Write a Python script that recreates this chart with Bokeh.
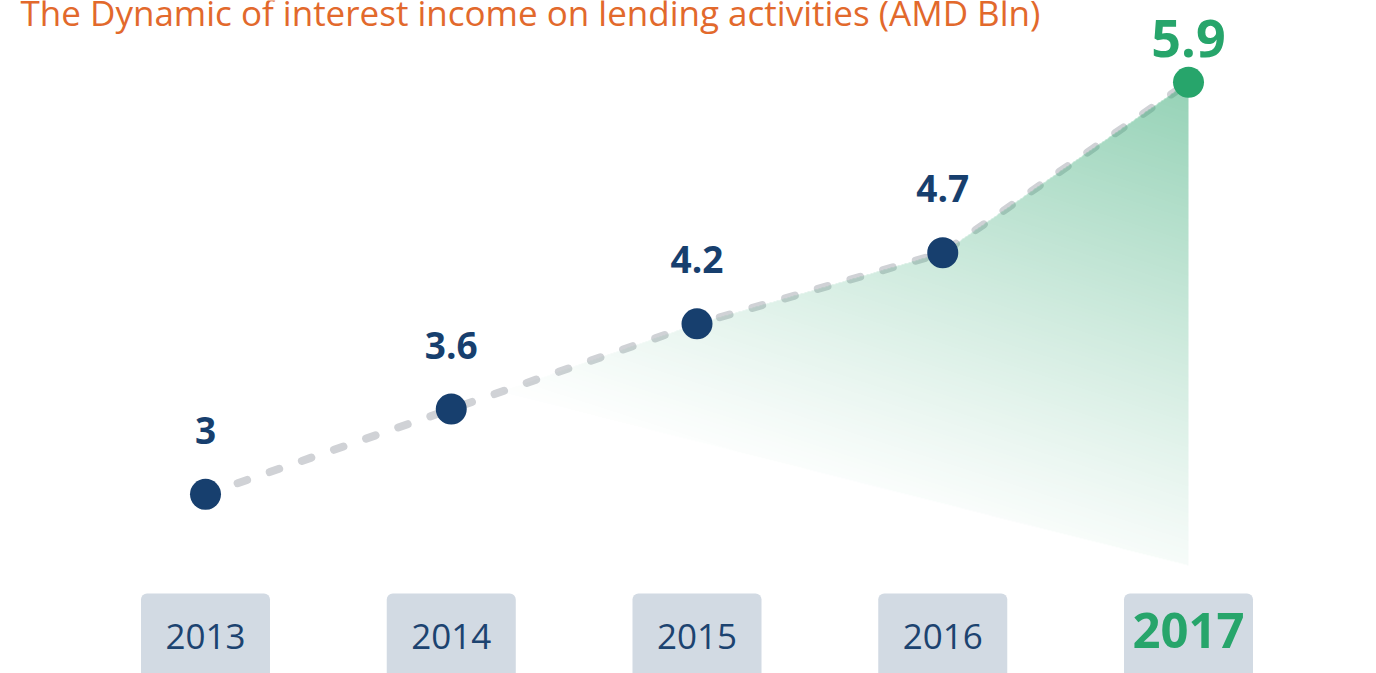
import numpy as np
from bokeh.plotting import figure
from bokeh.models import Range1d, Label
from bokeh.core.properties import value
from bokeh.embed import file_html
from bokeh.resources import INLINE

# ---- data ----
years = ["2013", "2014", "2015", "2016", "2017"]
values = [3.0, 3.6, 4.2, 4.7, 5.9]
labels = ["3", "3.6", "4.2", "4.7", "5.9"]
title_text = "The Dynamic of interest income on lending activities (AMD Bln)"

idx = np.arange(len(years), dtype=float)
vals = np.array(values)

# ---- layout / style ----
W, H = 1376, 673
X0, X1 = -0.8342, 4.765
Y0, Y1 = 1.7390, 6.4761
BLUE = "#173f6e"
GREEN = "#27a56b"
GRAY_LINE = "#d0d2d6"
BOX = "#d2dae3"
ORANGE = "#e2692c"

p = figure(width=W, height=H, x_range=Range1d(X0, X1), y_range=Range1d(Y0, Y1),
           output_backend="svg", toolbar_location=None, min_border=0)
p.axis.visible = False
p.grid.visible = False
p.outline_line_color = None
p.background_fill_color = "white"
p.border_fill_color = "white"

def sx(x):
    return (np.asarray(x) - X0) / (X1 - X0) * W

def sy(y):
    return H - (np.asarray(y) - Y0) / (Y1 - Y0) * H

# year boxes
BOX_TOP = 2.302
BOX_HALF = 0.2625
p.quad(left=idx - BOX_HALF, right=idx + BOX_HALF, top=BOX_TOP, bottom=Y0 - 1,
       fill_color=BOX, line_color=None, border_radius=6)

# dashed line
p.line(idx, vals, line_color=GRAY_LINE, line_width=8, line_dash="10 24", line_cap="round")

# gradient area under the last part of the line
GX0, GX1 = 1.2, idx[-1]
GBOT = 2.5
gy_left = np.interp(GX0, idx, vals)
gtop = vals[-1]
nx = int(round(float(sx(GX1) - sx(GX0))))
ny = int(round(float(sy(GBOT) - sy(gtop))))
xs = GX0 + (np.arange(nx) + 0.5) * (GX1 - GX0) / nx
ys = GBOT + (np.arange(ny) + 0.5) * (gtop - GBOT) / ny
XX, YY = np.meshgrid(xs, ys)
top_edge = np.interp(XX, idx, vals)
bot_edge = gy_left + (GBOT - gy_left) * (XX - GX0) / (GX1 - GX0)
mask = (YY <= top_edge) & (YY >= bot_edge)
px = sx(XX); py = sy(YY)
px0 = float(sx(GX1)); py0 = float(sy(gtop))
d = 0.001832 * (py - py0) + 0.000588 * (px0 - px)
alpha = 0.52 * np.clip(1 - d, 0, 1) ** 1.15
alpha = np.where(mask, alpha, 0.0)
img = np.zeros((ny, nx), dtype=np.uint32)
view = img.view(dtype=np.uint8).reshape((ny, nx, 4))
view[:, :, 0] = 49
view[:, :, 1] = 167
view[:, :, 2] = 113
view[:, :, 3] = (alpha * 255).astype(np.uint8)
p.image_rgba(image=[img], x=GX0, y=GBOT, dw=GX1 - GX0, dh=gtop - GBOT)

# points
p.scatter(idx[:-1], vals[:-1], size=31, fill_color=BLUE, line_color=None)
p.scatter(idx[-1:], vals[-1:], size=31, fill_color=GREEN, line_color=None)

# value labels
p.text(x=idx[:-1], y=vals[:-1], text=labels[:-1], text_font=value("Open Sans"),
       text_font_style="bold", text_font_size="37px", text_color=BLUE,
       text_align="center", text_baseline="alphabetic", y_offset=-64)
p.text(x=idx[-1:], y=vals[-1:], text=labels[-1:], text_font=value("Open Sans"),
       text_font_style="bold", text_font_size="52px", text_color=GREEN,
       text_align="center", text_baseline="alphabetic", y_offset=-44)

# year labels
YEAR_BASE = 1.908
p.text(x=idx[:-1], y=[YEAR_BASE] * 4, text=years[:-1], text_font=value("Open Sans"),
       text_font_size="35px", text_color="#1c4370",
       text_align="center", text_baseline="alphabetic", y_offset=-13)
p.text(x=idx[-1:], y=[YEAR_BASE], text=years[-1:], text_font=value("Open Sans"),
       text_font_style="bold", text_font_size="49px", text_color=GREEN,
       text_align="center", text_baseline="alphabetic", y_offset=-19)

# title
p.add_layout(Label(x=20, y=661, x_units="screen", y_units="screen", text=title_text,
                   text_font="Open Sans", text_font_size="35px", text_color=ORANGE,
                   text_baseline="alphabetic", text_align="left"))

open("out.html", "w").write(file_html(p, INLINE))
